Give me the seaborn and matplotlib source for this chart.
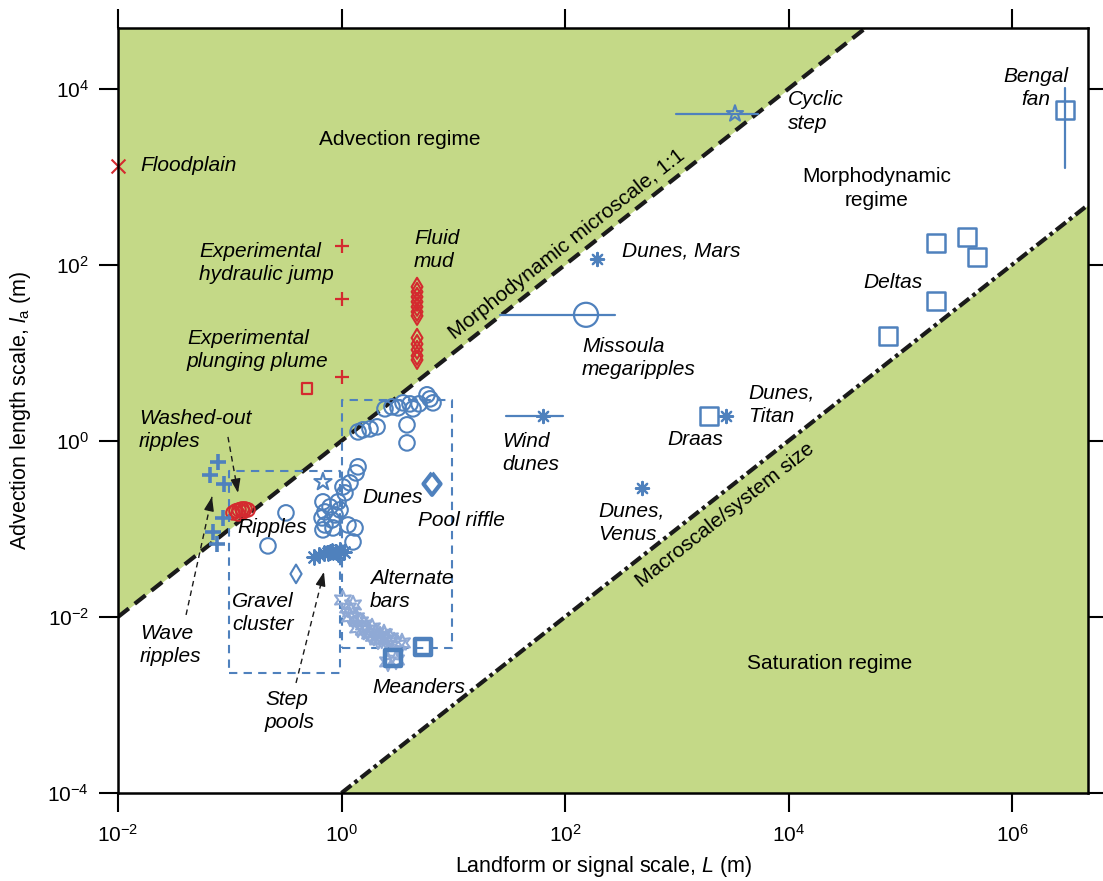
import numpy as np
import pandas as pd
import matplotlib
matplotlib.use("Agg")
import matplotlib.pyplot as plt
from matplotlib.markers import MarkerStyle
from matplotlib.ticker import FixedLocator, NullLocator
import seaborn as sns

# ---------------- data: log10(L [m]) and log10(l_a [m]) ----------------
floodplain_logL = [-2.0]
floodplain_logla = [3.125]

hydraulic_jump_logL = [0.0, 0.0]
hydraulic_jump_logla = [2.216, 1.614]

plunging_plume_logL = [0.0]
plunging_plume_logla = [0.727]
plunging_plume_sq_logL = [-0.309]
plunging_plume_sq_logla = [0.591]

fluid_mud_logL = [0.676, 0.676, 0.676, 0.676, 0.676, 0.676, 0.676,
                  0.676, 0.676, 0.676, 0.676, 0.676]
fluid_mud_logla = [1.75, 1.693, 1.636, 1.58, 1.523, 1.466, 1.42,
                   1.17, 1.10, 1.034, 0.966, 0.92]

ripples_logL = [-0.971, -0.944, -0.917, -0.890, -0.864, -0.837, -0.926, -0.881]
ripples_logla = [-0.818, -0.795, -0.784, -0.773, -0.773, -0.784, -0.830, -0.807]

washed_out_logL = [-1.105, -1.177, -1.051]
washed_out_logla = [-0.239, -0.386, -0.489]

wave_ripples_logL = [-1.060, -1.150, -1.114]
wave_ripples_logla = [-0.875, -1.034, -1.170]

dunes_logL = [0.148, 0.192, 0.255, 0.318, 0.389, 0.452, 0.506, 0.550, 0.613, 0.640,
              0.694, 0.765, 0.792, 0.819, 0.586, 0.586,
              0.148, 0.130, 0.076, 0.013, 0.031, -0.031, -0.166, -0.103, -0.013,
              -0.148, -0.058, -0.174, -0.085, -0.148, -0.076, 0.058, 0.121, 0.103,
              -0.166, -0.658, -0.497]
dunes_logla = [0.102, 0.125, 0.136, 0.159, 0.364, 0.386, 0.375, 0.432, 0.420, 0.364,
               0.420, 0.523, 0.477, 0.432, 0.182, -0.023,
               -0.295, -0.364, -0.477, -0.523, -0.591, -0.693, -0.693, -0.750, -0.784,
               -0.807, -0.841, -0.875, -0.898, -0.955, -0.989, -0.955, -0.989, -1.148,
               -1.011, -1.193, -0.818]

step_pools_logL = [-0.246, -0.201, -0.157, -0.121, -0.085, -0.049, -0.013, 0.022, -0.030, -0.100]
step_pools_logla = [-1.318, -1.295, -1.273, -1.273, -1.250, -1.261, -1.239, -1.261, -1.280, -1.260]

gravel_cluster_logL = [-0.407]
gravel_cluster_logla = [-1.511]

star_logL = [-0.166]
star_logla = [-0.466]

pool_riffle_logL = [0.810]
pool_riffle_logla = [-0.489]

alt_bars_logL = [0.013, 0.058, 0.085, 0.103, 0.076, 0.130, 0.166, 0.148, 0.201, 0.237,
                 0.273, 0.255, 0.309, 0.345, 0.380, 0.327, 0.398, 0.434, 0.470, 0.506,
                 0.541, 0.452, 0.488, 0.416, 0.200, 0.290, 0.360]
alt_bars_logla = [-1.807, -1.898, -1.943, -1.864, -2.000, -2.011, -2.057, -2.125, -2.091, -2.148,
                  -2.125, -2.193, -2.182, -2.216, -2.193, -2.261, -2.261, -2.239, -2.284, -2.318,
                  -2.295, -2.432, -2.489, -2.511, -2.150, -2.220, -2.250]

meanders_logL = [0.461, 0.729]
meanders_logla = [-2.466, -2.341]

cyclic_step_logL = [3.521]
cyclic_step_logla = [3.716]
cyclic_step_range = [2.993, 3.727]

missoula_logL = [2.188]
missoula_logla = [1.432]
missoula_range = [1.418, 2.447]

wind_dunes_logL = [1.803]
wind_dunes_logla = [0.284]
wind_dunes_range = [1.472, 1.982]

mars_logL = [2.286]
mars_logla = [2.068]
titan_logL = [3.441]
titan_logla = [0.284]
venus_logL = [2.689]
venus_logla = [-0.534]

draas_logL = [3.289]
draas_logla = [0.284]

deltas_logL = [5.320, 5.597, 5.687, 5.320, 4.890]
deltas_logla = [2.250, 2.318, 2.091, 1.591, 1.193]

bengal_logL = [6.474]
bengal_logla = [3.761]
bengal_range = [3.102, 4.011]

box_small_logL = [-1.007, -0.013]
box_small_logla = [-2.636, -0.341]
box_large_logL = [0.0, 0.989]
box_large_logla = [-2.352, 0.466]

x_ticks = [1e-2, 1e0, 1e2, 1e4, 1e6]
y_ticks = [1e-4, 1e-2, 1e0, 1e2, 1e4]

# ---------------- style ----------------
BLUE = "#4f81bd"
RED = "#d42a2f"
LBLUE = "#8fa9d5"
GREEN = "#c4d987"
FS = 15

sns.set_theme(style="white")
plt.rcParams["font.family"] = ["Liberation Sans", "DejaVu Sans"]
plt.rcParams["mathtext.fontset"] = "custom"
plt.rcParams["mathtext.rm"] = "Liberation Sans"
plt.rcParams["mathtext.it"] = "Liberation Sans:italic"
plt.rcParams["mathtext.sf"] = "Liberation Sans"
plt.rcParams["text.color"] = "black"
plt.rcParams["axes.labelcolor"] = "black"

fig = plt.figure(figsize=(11.03, 8.81), dpi=100)
ax = fig.add_axes([118 / 1103, 1 - 793 / 881, (1088 - 118) / 1103, (793 - 28) / 881])
ax.set_xscale("log")
ax.set_yscale("log")
XMIN, XMAX = 1e-2, 10 ** 6.68
YMIN, YMAX = 1e-4, 10 ** 4.69
ax.set_xlim(XMIN, XMAX)
ax.set_ylim(YMIN, YMAX)
ax.set_facecolor("white")

# regime fills and boundary lines
xs = np.array([XMIN, XMAX])
ax.fill_between(xs, xs, YMAX, color=GREEN, lw=0, zorder=0)
ax.fill_between(xs, YMIN, xs * 1e-4, color=GREEN, lw=0, zorder=0)
ax.plot(xs, xs, color="k", lw=3, dashes=(3.3, 1.8), zorder=2, solid_capstyle="butt")
xm = np.array([1.0, XMAX])
ax.plot(xm, xm * 1e-4, color="k", lw=3, dashes=(3.0, 1.0, 0.9, 1.0), zorder=2)


def p10(v):
    return np.power(10.0, np.asarray(v, dtype=float))


# dashed boxes
for bl, bla in [(box_small_logL, box_small_logla), (box_large_logL, box_large_logla)]:
    x0, x1 = p10(bl)
    y0, y1 = p10(bla)
    ax.plot([x0, x1, x1, x0, x0], [y0, y0, y1, y1, y0], color=BLUE, lw=1.5,
            dashes=(4, 3), zorder=2)

# range bars
for rng, ly in [(cyclic_step_range, cyclic_step_logla), (missoula_range, missoula_logla),
                (wind_dunes_range, wind_dunes_logla)]:
    ax.plot(p10(rng), p10([ly[0], ly[0]]), color=BLUE, lw=1.6, zorder=3)
ax.plot(p10([bengal_logL[0], bengal_logL[0]]), p10(bengal_range), color=BLUE, lw=1.6, zorder=3)


def pts(lx, ly, marker, s, color, lw=1.5, z=4):
    d = pd.DataFrame({"L": p10(lx), "la": p10(ly)})
    kw = dict(data=d, x="L", y="la", marker=marker, s=s, linewidth=lw, zorder=z,
              ax=ax, legend=False, clip_on=False)
    if MarkerStyle(marker).is_filled():
        sns.scatterplot(color=color, facecolor="none", edgecolor=color, **kw)
    else:
        sns.scatterplot(color=color, **kw)


ASTER = (8, 2, 0)
HEXA = (6, 1, 0)
RIFFLE = [(0, 1), (0.78, 0), (0, -1), (-0.78, 0), (0, 1)]

pts(floodplain_logL, floodplain_logla, "x", 100, RED, 1.5)
pts(hydraulic_jump_logL, hydraulic_jump_logla, "+", 90, RED, 1.6)
pts(plunging_plume_logL, plunging_plume_logla, "+", 90, RED, 1.6)
pts(plunging_plume_sq_logL, plunging_plume_sq_logla, "s", 60, RED, 1.6)
pts(fluid_mud_logL, fluid_mud_logla, "d", 85, RED, 1.5)
pts(alt_bars_logL, alt_bars_logla, HEXA, 175, LBLUE, 1.5)
pts(dunes_logL, dunes_logla, "o", 125, BLUE, 1.5)
pts(ripples_logL, ripples_logla, "o", 95, RED, 1.5)
pts(washed_out_logL, washed_out_logla, "+", 130, BLUE, 2.6)
pts(wave_ripples_logL, wave_ripples_logla, "+", 130, BLUE, 2.6)
pts(step_pools_logL, step_pools_logla, ASTER, 110, BLUE, 1.5)
pts(gravel_cluster_logL, gravel_cluster_logla, "d", 90, BLUE, 1.5)
pts(star_logL, star_logla, "*", 170, BLUE, 1.5)
pts(pool_riffle_logL, pool_riffle_logla, RIFFLE, 250, BLUE, 3.0)
pts(meanders_logL, meanders_logla, "s", 120, BLUE, 3.2)
pts(cyclic_step_logL, cyclic_step_logla, "*", 150, BLUE, 1.5)
pts(missoula_logL, missoula_logla, "o", 300, BLUE, 1.6)
pts(wind_dunes_logL, wind_dunes_logla, ASTER, 90, BLUE, 1.6)
pts(mars_logL, mars_logla, ASTER, 90, BLUE, 1.6)
pts(titan_logL, titan_logla, ASTER, 90, BLUE, 1.6)
pts(venus_logL, venus_logla, ASTER, 90, BLUE, 1.6)
pts(draas_logL, draas_logla, "s", 160, BLUE, 1.8)
pts(deltas_logL, deltas_logla, "s", 170, BLUE, 1.8)
pts(bengal_logL, bengal_logla, "s", 170, BLUE, 1.8)

# dashed annotation arrows (log10 coordinates: start -> end)
arrows = [((-1.016, 0.045), (-0.926, -0.591)),
          ((-1.391, -1.977), (-1.159, -0.636)),
          ((-0.407, -2.75), (-0.157, -1.489))]
for (a, b), (c, d) in arrows:
    ax.plot(p10([a, c]), p10([b, d]), color="k", lw=1.0, dashes=(4, 3), zorder=3)
    ax.annotate("", xy=(10 ** c, 10 ** d),
                xytext=(10 ** (a + 0.9 * (c - a)), 10 ** (b + 0.9 * (d - b))),
                arrowprops=dict(arrowstyle="-|>,head_length=0.7,head_width=0.25",
                                color="k", lw=1.0, shrinkA=0, shrinkB=0), zorder=3)

# labels (log10 positions)
labels = [
    ("Advection regime", 0.524, 3.42, "center", "normal"),
    ("Floodplain", -1.803, 3.125, "left", "italic"),
    ("Experimental\nhydraulic jump", -1.275, 2.023, "left", "italic"),
    ("Experimental\nplunging plume", -1.383, 1.034, "left", "italic"),
    ("Fluid\nmud", 0.649, 2.17, "left", "italic"),
    ("Washed-out\nripples", -1.812, 0.125, "left", "italic"),
    ("Ripples", -0.935, -0.989, "left", "italic"),
    ("Wave\nripples", -1.803, -2.318, "left", "italic"),
    ("Gravel\ncluster", -0.980, -1.955, "left", "italic"),
    ("Step\npools", -0.685, -3.068, "left", "italic"),
    ("Dunes", 0.183, -0.648, "left", "italic"),
    ("Pool riffle", 0.685, -0.909, "left", "italic"),
    ("Alternate\nbars", 0.255, -1.693, "left", "italic"),
    ("Meanders", 0.273, -2.807, "left", "italic"),
    ("Dunes, Mars", 2.510, 2.159, "left", "italic"),
    ("Missoula\nmegaripples", 2.152, 0.943, "left", "italic"),
    ("Wind\ndunes", 1.436, -0.136, "left", "italic"),
    ("Draas", 2.913, 0.011, "left", "italic"),
    ("Dunes,\nTitan", 3.638, 0.409, "left", "italic"),
    ("Dunes,\nVenus", 2.295, -0.932, "left", "italic"),
    ("Cyclic\nstep", 3.996, 3.739, "left", "italic"),
    ("Bengal\nfan", 6.215, 4.011, "center", "italic"),
    ("Morphodynamic\nregime", 4.792, 2.864, "center", "normal"),
    ("Deltas", 4.667, 1.795, "left", "italic"),
    ("Saturation regime", 4.371, -2.534, "center", "normal"),
]
for s, lx, ly, ha, st in labels:
    ax.text(10 ** lx, 10 ** ly, s, ha=ha, va="center", fontsize=FS, fontstyle=st,
            linespacing=1.3, zorder=6)

# rotated boundary labels
p0 = ax.transData.transform((1.0, 1.0))
p1 = ax.transData.transform((100.0, 100.0))
ang = np.degrees(np.arctan2(p1[1] - p0[1], p1[0] - p0[0]))
ax.text(10 ** 2.018, 10 ** 2.227, "Morphodynamic microscale, 1:1", rotation=ang,
        rotation_mode="anchor", ha="center", va="center", fontsize=FS, zorder=6)
ax.text(10 ** 3.432, 10 ** -0.841, "Macroscale/system size", rotation=ang,
        rotation_mode="anchor", ha="center", va="center", fontsize=FS, zorder=6)

# axes styling
ax.xaxis.set_major_locator(FixedLocator(x_ticks))
ax.yaxis.set_major_locator(FixedLocator(y_ticks))
ax.xaxis.set_minor_locator(NullLocator())
ax.yaxis.set_minor_locator(NullLocator())
for sp in ax.spines.values():
    sp.set_linewidth(1.8)
    sp.set_color("black")
    sp.set_zorder(5)
ax.tick_params(axis="both", which="major", direction="out", length=14, width=1.5,
               colors="black", labelsize=FS, bottom=True, left=True, top=True, right=True)
ax.tick_params(axis="x", pad=8)
ax.tick_params(axis="y", pad=7)
ax.set_xlabel("Landform or signal scale, $L$ (m)", fontsize=15.5, labelpad=6)
ax.set_ylabel("Advection length scale, $l_{\\mathrm{a}}$ (m)", fontsize=15.5, labelpad=10)

fig.savefig("out.png", dpi=100)
